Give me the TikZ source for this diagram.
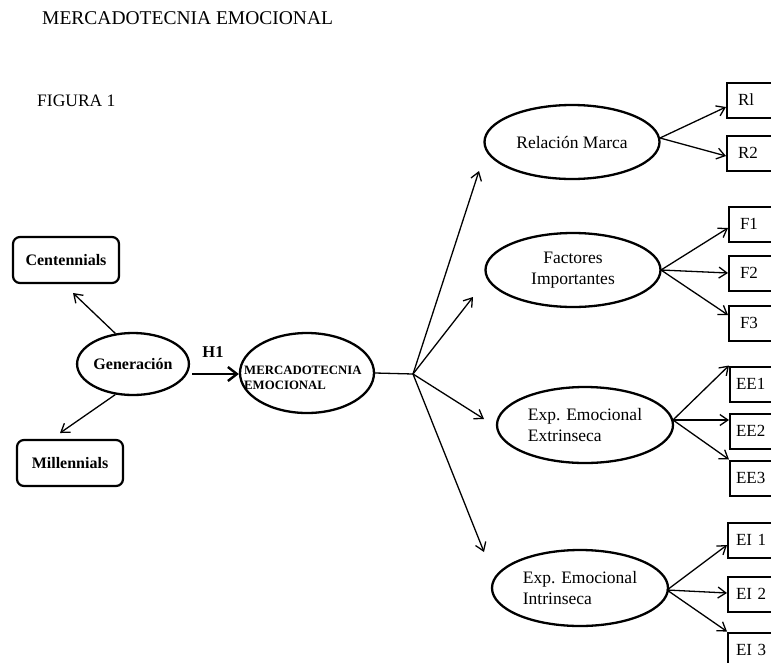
\documentclass[tikz,border=0pt]{standalone}
\usepackage{fontspec}
\setmainfont{Liberation Serif}
\usetikzlibrary{shapes.geometric,arrows.meta}
\begin{document}
\begin{tikzpicture}[x=1pt,y=-1pt,
  arr/.style={line width=1.3pt,-{Straight Barb[length=8pt,width=11pt,line width=1.3pt]}},
  ell/.style={ellipse,draw,line width=2.3pt,inner sep=0pt},
  rbox/.style={draw,rounded corners=7pt,line width=2.2pt,minimum width=106pt,minimum height=46pt,font=\fontsize{16}{19}\selectfont\bfseries},
  ibox/.style={draw,line width=2pt,minimum height=35pt,text width=60pt,inner xsep=11pt,align=left,font=\fontsize{17}{20}\selectfont,anchor=west},
  etext/.style={font=\fontsize{17.5}{21}\selectfont}]
\clip (0,0) rectangle (771,662);
\fill[white] (0,0) rectangle (771,662);
% titles
\node[anchor=west,font=\fontsize{19.5}{23}\selectfont,inner sep=0pt] (title) at (42,18) {MERCADOTECNIA EMOCIONAL};
\node[anchor=west,font=\fontsize{17.5}{21}\selectfont,inner sep=0pt] (fig) at (37,101) {FIGURA 1};
% left
\node[rbox] (cen) at (66,260) {Centennials};
\node[rbox] (mil) at (70,463) {Millennials};
\node[ell,minimum width=107pt,minimum height=62pt,font=\fontsize{16}{19}\selectfont\bfseries] (gen) at (133,364) {Generación};
\node[ell,minimum width=134pt,minimum height=80pt] (me) at (307,373) {};
\node[anchor=west,align=left,inner sep=0pt,font=\fontsize{12.8}{15}\selectfont\bfseries] (metext) at (244,378) {MERCADOTECNIA\\EMOCIONAL};
\coordinate (cenT) at (73,293);
\coordinate (milT) at (60,433);
\draw[arr] (gen.120) -- (cenT);
\draw[arr] (gen.240) -- (milT);
\coordinate (hs) at (192,374);
\draw[line width=2.6pt,-{Straight Barb[length=9pt,width=14pt,line width=2.4pt]}] (hs) -- (me.west |- hs);
\node[font=\fontsize{16.5}{19}\selectfont\bfseries] (h1) at (213,352) {H1};
% hub
\coordinate (hub) at (413,374);
\draw[line width=1.3pt] (me.east) -- (hub);
\coordinate (t1) at (479,171);
\coordinate (t2) at (473,297);
\coordinate (t3) at (484,419);
\coordinate (t4) at (484,552);
\foreach \t in {t1,t2,t3,t4} \draw[arr] (hub) -- (\t);
% right ellipses
\node[ell,minimum width=175pt,minimum height=74pt,etext] (rm) at (572,142) {Relación Marca};
\node[ell,minimum width=175pt,minimum height=74pt,etext,align=center] (fi) at (573,270) {Factores\\Importantes};
\node[ell,minimum width=176pt,minimum height=76pt,etext,align=left] (ee) at (585,425) {Exp. Emocional\\Extrinseca};
\node[ell,minimum width=176pt,minimum height=76pt,etext,align=left] (ei) at (580,588) {Exp. Emocional\\Intrinseca};
% indicator boxes
\node[ibox] (r1) at (726,100) {Rl};
\node[ibox] (r2) at (726,153) {R2};
\node[ibox] (f1) at (728,224) {F1};
\node[ibox] (f2) at (728,273) {F2};
\node[ibox] (f3) at (728,323) {F3};
\node[ibox,inner xsep=6pt] (ee1) at (729,384) {EE1};
\node[ibox,inner xsep=6pt] (ee2) at (729,431) {EE2};
\node[ibox,inner xsep=6pt] (ee3) at (729,478) {EE3};
\node[ibox,inner xsep=8pt] (ei1) at (727,540) {EI 1};
\node[ibox,inner xsep=8pt] (ei2) at (727,594) {EI 2};
\node[ibox,inner xsep=8pt] (ei3) at (727,650) {EI 3};
% connectors
\coordinate (rmE) at (660,138);
\draw[arr] (rmE) -- (r1.west |- 0,107);
\draw[arr] (rmE) -- (r2.west |- 0,156);
\coordinate (fiE) at (661,270);
\draw[arr] (fiE) -- (f1.west |- 0,228);
\draw[arr] (fiE) -- (f2.west);
\draw[arr] (fiE) -- (f3.west |- 0,315);
\coordinate (eeE) at (673,420);
\draw[arr] (eeE) -- (ee1.north west);
\draw[arr] (eeE) -- (ee2.west |- 0,420);
\draw[arr] (eeE) -- (ee3.north west);
\coordinate (eiE) at (667,590);
\draw[arr] (eiE) -- (ei1.west |- 0,545);
\draw[arr] (eiE) -- (ei2.west |- 0,593);
\draw[arr] (eiE) -- (ei3.north west);
\end{tikzpicture}
\end{document}
